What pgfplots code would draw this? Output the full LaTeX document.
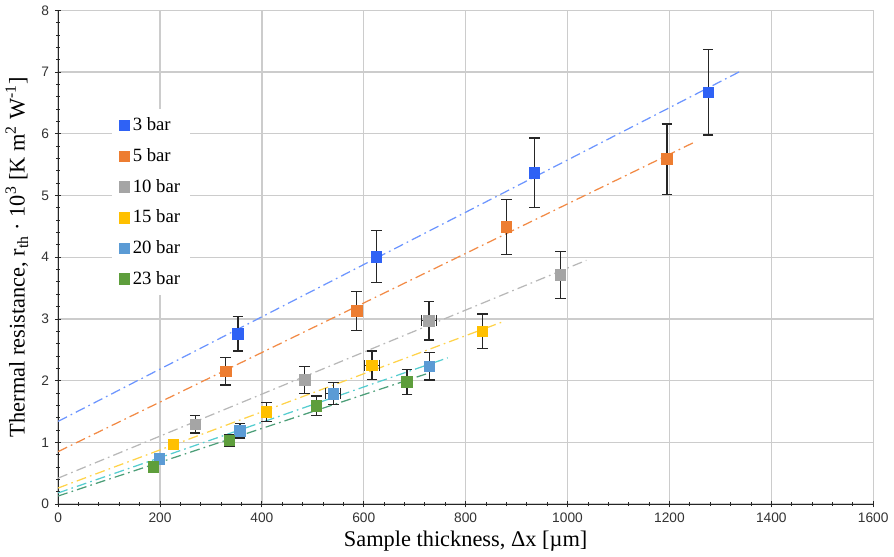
\documentclass[border=0pt]{standalone}
\usepackage{fontspec}
\setmainfont{Liberation Serif}
\setsansfont{Liberation Sans}
\usepackage{pgfplots}
\pgfplotsset{compat=1.18}

\definecolor{c3}{HTML}{2F62F5}
\definecolor{c5}{HTML}{ED7D31}
\definecolor{c10}{HTML}{A5A5A5}
\definecolor{c15}{HTML}{FFC000}
\definecolor{c20}{HTML}{5B9BD5}
\definecolor{c23}{HTML}{5E9E3C}
\definecolor{t3}{HTML}{6C95FF}
\definecolor{t5}{HTML}{F28A45}
\definecolor{t10}{HTML}{B8B8B8}
\definecolor{t15}{HTML}{FFD34A}
\definecolor{t20}{HTML}{55CDD0}
\definecolor{t23}{HTML}{4C9E78}

\pgfplotsset{
  trend/.style={line width=0.75pt, dash pattern=on 6pt off 2.5pt on 1pt off 2.5pt, forget plot},
  meas/.style={only marks, mark=square*, mark size=3.2pt, mark options={draw=#1, fill=#1},
    error bars/.cd, y dir=both, y explicit, x dir=both, x explicit,
    error bar style={line width=0.75pt, black!85},
    error mark options={rotate=90, mark size=3.2pt, line width=0.75pt, black!85}},
}

\begin{document}
\begin{tikzpicture}
\begin{axis}[
  scale only axis, width=492pt, height=298pt,
  xmin=0, xmax=1600, ymin=0, ymax=8,
  xtick distance=200, ytick distance=1, minor tick num=4,
  axis lines=left, axis line style={black!85, line width=0.6pt, -},
  tick align=center, major tick length=4pt, minor tick length=2.5pt,
  tick style={black!85, line width=0.5pt},
  grid=major, major grid style={line width=0.8pt, black!20},
  /pgf/number format/assume math mode=true,
  /pgf/number format/1000 sep={},
  tick label style={font=\sffamily\fontsize{8.3}{10}\selectfont, text=black!80},
  xlabel={Sample thickness, Δx [µm]},
  ylabel={Thermal resistance, r\textsubscript{th} · 10\textsuperscript{3} [K m\textsuperscript{2} W\textsuperscript{-1}]},
  label style={font=\fontsize{13.5}{16}\selectfont},
  xlabel style={yshift=2pt},
  ylabel style={yshift=1pt},
  legend cell align=left,
  legend style={at={(0.066,0.80)}, anchor=north west, draw=none, fill=white,
    font=\fontsize{11.3}{13}\selectfont, row sep=5.2pt, inner xsep=4pt, inner ysep=3pt},
  legend image code/.code={\draw[mark repeat=2, mark phase=2] plot coordinates {(0cm,0cm) (0.15cm,0cm) (0.3cm,0cm)};},
]
% trend lines
\addplot[trend, t3]  coordinates {(0,1.34) (1341,7.02)};
\addplot[trend, t5]  coordinates {(0,0.85) (1253,5.88)};
\addplot[trend, t10] coordinates {(0,0.42) (1037,3.95)};
\addplot[trend, t15] coordinates {(0,0.26) (875,2.96)};
\addplot[trend, t20] coordinates {(0,0.18) (765,2.37)};
\addplot[trend, t23] coordinates {(0,0.13) (723,2.11)};

% measurements
\addplot[meas=c3] coordinates {(353,2.76) +- (0,0.28) (625,4.01) +- (0,0.42) (935,5.37) +- (0,0.56) (1276,6.67) +- (0,0.69)};
\addlegendentry{3 bar}
\addplot[meas=c5] coordinates {(329,2.15) +- (0,0.22) (586,3.13) +- (0,0.32) (880,4.49) +- (0,0.45) (1195,5.59) +- (0,0.57)};
\addlegendentry{5 bar}
\addplot[meas=c10] coordinates {(269,1.29) +- (0,0.14) (484,2.01) +- (0,0.22) (728,2.97) +- (15,0.31) (986,3.71) +- (0,0.38)};
\addlegendentry{10 bar}
\addplot[meas=c15] coordinates {(226,0.97) +- (0,0.08) (409,1.49) +- (0,0.15) (616,2.25) +- (15,0.23) (833,2.80) +- (0,0.28)};
\addlegendentry{15 bar}
\addplot[meas=c20] coordinates {(199,0.73) +- (0,0.07) (357,1.19) +- (0,0.12) (540,1.79) +- (15,0.18) (729,2.23) +- (0,0.22)};
\addlegendentry{20 bar}
\addplot[meas=c23] coordinates {(187,0.60) +- (0,0.06) (336,1.03) +- (0,0.10) (507,1.59) +- (0,0.16) (685,1.98) +- (0,0.20)};
\addlegendentry{23 bar}
\end{axis}
\end{tikzpicture}
\end{document}
